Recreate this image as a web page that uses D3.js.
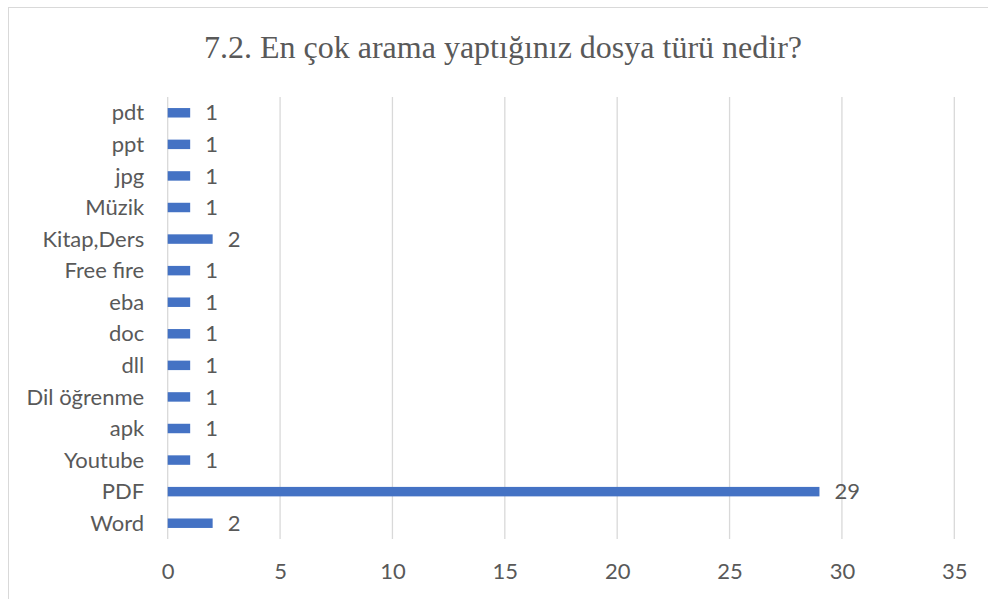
<!DOCTYPE html>
<html>
<head>
<meta charset="utf-8">
<script src="https://cdn.jsdelivr.net/npm/d3@7"></script>
<style>
  html, body { margin: 0; padding: 0; background: #ffffff; }
  svg { display: block; }
</style>
</head>
<body>
<svg id="chart" width="988" height="599"></svg>
<script>
const title = "7.2. En çok arama yaptığınız dosya türü nedir?";
const categories = ["pdt", "ppt", "jpg", "Müzik", "Kitap,Ders", "Free fire", "eba", "doc", "dll", "Dil öğrenme", "apk", "Youtube", "PDF", "Word"];
const values = [1, 1, 1, 1, 2, 1, 1, 1, 1, 1, 1, 1, 29, 2];
const xTicks = [0, 5, 10, 15, 20, 25, 30, 35];

const data = categories.map((c, i) => ({ category: c, value: values[i] }));

const svg = d3.select("#chart");
const textColor = "#595959";
const labelFont = "Lato, 'Open Sans', sans-serif";
const labelSize = 22;

// chart border (extends past right and bottom edges as in the reference)
svg.append("rect")
  .attr("x", 8.5).attr("y", 7.5)
  .attr("width", 1000).attr("height", 620)
  .attr("fill", "#ffffff")
  .attr("stroke", "#d9d9d9")
  .attr("stroke-width", 1);

const plot = { left: 167.7, right: 954.3, top: 97, bottom: 539 };

const x = d3.scaleLinear().domain([0, 35]).range([plot.left, plot.right]);
const y = d3.scaleBand().domain(categories).range([plot.top, plot.bottom])
  .paddingInner(0.7).paddingOuter(0.35);

// title
svg.append("text")
  .attr("x", 503).attr("y", 58)
  .attr("text-anchor", "middle")
  .attr("font-family", "'Liberation Serif', 'Times New Roman', serif")
  .attr("font-size", 32)
  .attr("fill", textColor)
  .text(title);

// gridlines
svg.append("g").selectAll("line")
  .data(xTicks).join("line")
  .attr("x1", d => x(d)).attr("x2", d => x(d))
  .attr("y1", plot.top).attr("y2", plot.bottom)
  .attr("stroke", "#d9d9d9").attr("stroke-width", 1.3);

// x axis tick labels
const xAxis = d3.axisBottom(x).tickValues(xTicks).tickSize(0).tickPadding(0);
const xg = svg.append("g").attr("transform", `translate(0, ${plot.bottom})`).call(xAxis);
xg.select(".domain").remove();
xg.selectAll("text")
  .attr("dy", null)
  .attr("y", 39.5)
  .attr("font-family", labelFont)
  .attr("font-size", labelSize)
  .attr("fill", textColor);

// y axis category labels
const yAxis = d3.axisLeft(y).tickSize(0).tickPadding(0);
const yg = svg.append("g").attr("transform", `translate(${plot.left - 23.5}, 0)`).call(yAxis);
yg.select(".domain").remove();
yg.selectAll("text")
  .attr("dy", "0.35em")
  .attr("x", 0)
  .attr("font-family", labelFont)
  .attr("font-size", labelSize)
  .attr("fill", textColor);

// bars
svg.append("g").selectAll("rect")
  .data(data).join("rect")
  .attr("x", x(0))
  .attr("y", d => y(d.category))
  .attr("width", d => x(d.value) - x(0))
  .attr("height", y.bandwidth())
  .attr("fill", "#4472c4");

// value labels
svg.append("g").selectAll("text")
  .data(data).join("text")
  .attr("x", d => x(d.value) + 15)
  .attr("y", d => y(d.category) + y.bandwidth() / 2)
  .attr("dy", "0.35em")
  .attr("font-family", labelFont)
  .attr("font-size", labelSize)
  .attr("fill", textColor)
  .text(d => d.value);
</script>
</body>
</html>
